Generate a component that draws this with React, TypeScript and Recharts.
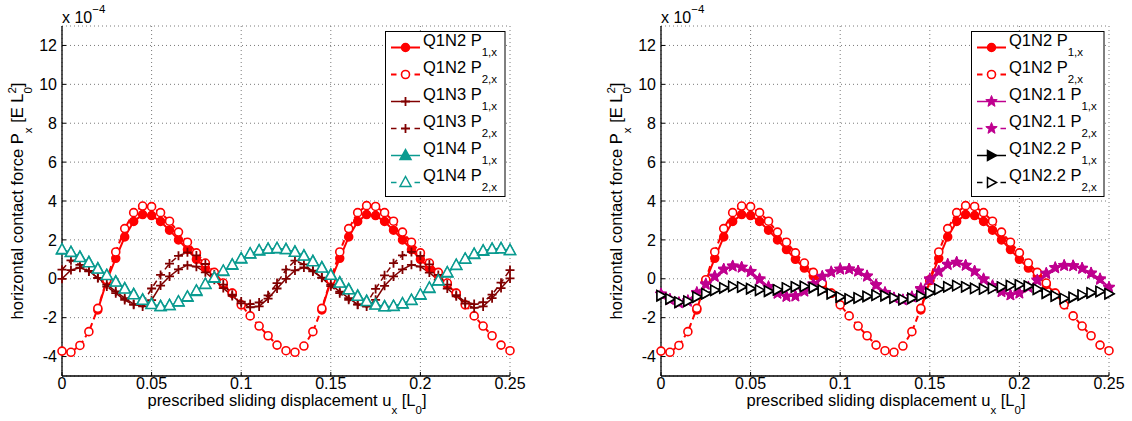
import React from 'react';
import { LineChart, Line, XAxis, YAxis, CartesianGrid } from 'recharts';

const FONT = '"Liberation Sans", Arial, Helvetica, sans-serif';

// prescribed sliding displacement u_x [L_0]
const displacement = [
  0, 0.005, 0.01, 0.015, 0.02, 0.025, 0.03, 0.035, 0.04, 0.045,
  0.05, 0.055, 0.06, 0.065, 0.07, 0.075, 0.08, 0.085, 0.09, 0.095,
  0.1, 0.105, 0.11, 0.115, 0.12, 0.125, 0.13, 0.135, 0.14, 0.145,
  0.15, 0.155, 0.16, 0.165, 0.17, 0.175, 0.18, 0.185, 0.19, 0.195,
  0.2, 0.205, 0.21, 0.215, 0.22, 0.225, 0.23, 0.235, 0.24, 0.245, 0.25,
];

// horizontal contact force, x 1e-4
const q1n2P1 = [
  null, null, null, null, -1.6, -0.1, 1.05, 2.15, 2.95, 3.3,
  3.25, 2.95, 2.5, 2.0, 1.5, 1.0, 0.55, 0.15, -0.3, -0.75,
  null, null, null, null, null, null, null, null, null, -1.6,
  -0.1, 1.05, 2.15, 2.95, 3.3, 3.25, 2.95, 2.5, 2.0, 1.5,
  1.0, 0.55, 0.15, -0.3, -0.75, null, null, null, null, null, null,
];
const q1n2P2 = [
  -3.72, -3.78, -3.43, -2.72, -1.52, -0.05, 1.38, 2.58, 3.4, 3.74,
  3.71, 3.4, 2.96, 2.4, 1.88, 1.33, 0.81, 0.33, -0.22, -0.74,
  -1.34, -1.91, -2.43, -2.93, -3.41, -3.7, -3.78, -3.46, -2.72, -1.52,
  -0.05, 1.38, 2.58, 3.4, 3.76, 3.72, 3.4, 2.96, 2.4, 1.88,
  1.33, 0.81, 0.33, -0.22, -0.74, -1.34, -1.91, -2.43, -2.93, -3.41, -3.7,
];
const q1n3P1 = [
  0, 0.45, 0.57, 0.4, 0.05, -0.3, -0.65, -1.0, -1.3, -1.42,
  -1.1, -0.35, 0.12, 0.48, 0.7, 0.62, 0.33, -0.05, -0.48, -0.88,
  -1.26, -1.47, -1.42, -1.02, -0.5, 0.0, 0.43, 0.58, 0.42, 0.06,
  -0.3, -0.66, -1.0, -1.32, -1.43, -1.08, -0.36, 0.12, 0.48, 0.72,
  0.62, 0.32, -0.06, -0.5, -0.9, -1.28, -1.5, -1.42, -1.0, -0.48, 0.02,
];
const q1n3P2 = [
  0.47, 0.95, 0.72, 0.38, 0.04, -0.4, -0.74, -1.09, -1.34, -1.27,
  -0.5, 0.2, 0.78, 1.18, 1.36, 1.2, 0.76, 0.22, -0.3, -0.82,
  -1.17, -1.3, -1.22, -0.85, -0.22, 0.47, 0.93, 0.74, 0.38, 0.05,
  -0.38, -0.74, -1.08, -1.33, -1.28, -0.52, 0.18, 0.8, 1.2, 1.38,
  1.18, 0.74, 0.2, -0.3, -0.84, -1.18, -1.3, -1.2, -0.82, -0.2, 0.45,
];
const q1n4P1 = [
  1.48, 1.35, 1.12, 0.85, 0.52, 0.18, -0.15, -0.5, -0.8, -1.08,
  -1.3, -1.42, -1.38, -1.2, -0.95, -0.65, -0.3, 0.03, 0.38, 0.7,
  1.02, 1.27, 1.43, 1.52, 1.55, 1.5, 1.38, 1.18, 0.9, 0.58,
  0.2, -0.2, -0.55, -0.88, -1.15, -1.33, -1.43, -1.42, -1.3, -1.12,
  -0.85, -0.5, -0.12, 0.3, 0.68, 1.0, 1.25, 1.42, 1.52, 1.55, 1.45,
];
const q1n4P2 = [
  1.5, 1.36, 1.1, 0.83, 0.5, 0.17, -0.17, -0.52, -0.82, -1.1,
  -1.32, -1.43, -1.37, -1.18, -0.93, -0.62, -0.28, 0.05, 0.4, 0.72,
  1.04, 1.29, 1.45, 1.53, 1.56, 1.5, 1.37, 1.17, 0.88, 0.56,
  0.18, -0.22, -0.57, -0.9, -1.17, -1.35, -1.44, -1.41, -1.28, -1.1,
  -0.82, -0.47, -0.1, 0.32, 0.7, 1.02, 1.27, 1.44, 1.53, 1.55, 1.46,
];
const q1n21P1 = [
  -0.78, -1.05, -1.25, -1.17, -0.75, -0.3, 0.1, 0.47, 0.64, 0.6,
  0.38, 0.0, -0.4, -0.74, -0.9, -0.9, -0.65, -0.3, 0.1, 0.33,
  0.48, 0.5, 0.4, 0.15, -0.3, -0.7, -0.98, -1.1, -0.95, -0.55,
  -0.05, 0.35, 0.72, 0.84, 0.7, 0.4, 0.0, -0.35, -0.65, -0.83,
  -0.75, -0.45, -0.1, 0.25, 0.55, 0.67, 0.67, 0.55, 0.3, 0.0, -0.43,
];
const q1n21P2 = [
  -0.8, -1.08, -1.22, -1.12, -0.7, -0.26, 0.14, 0.5, 0.66, 0.58,
  0.35, -0.04, -0.44, -0.76, -0.92, -0.88, -0.62, -0.26, 0.13, 0.36,
  0.5, 0.5, 0.38, 0.12, -0.34, -0.73, -1.0, -1.08, -0.92, -0.5,
  0.0, 0.4, 0.75, 0.85, 0.68, 0.37, -0.04, -0.38, -0.68, -0.84,
  -0.72, -0.42, -0.06, 0.29, 0.58, 0.69, 0.66, 0.52, 0.27, -0.04, -0.46,
];
const q1n22P1 = [
  -0.88, -1.05, -1.22, -1.17, -0.95, -0.78, -0.6, -0.48, -0.4, -0.43,
  -0.52, -0.6, -0.65, -0.58, -0.48, -0.42, -0.4, -0.47, -0.6, -0.78,
  -0.95, -1.05, -1.0, -0.92, -0.85, -0.88, -1.0, -1.08, -1.02, -0.9,
  -0.75, -0.55, -0.42, -0.36, -0.42, -0.5, -0.53, -0.5, -0.43, -0.36,
  -0.32, -0.38, -0.55, -0.75, -0.9, -1.03, -0.97, -0.85, -0.74, -0.66, -0.78,
];
const q1n22P2 = [
  -0.86, -1.03, -1.2, -1.15, -0.93, -0.76, -0.58, -0.46, -0.39, -0.42,
  -0.5, -0.58, -0.63, -0.56, -0.47, -0.41, -0.39, -0.45, -0.58, -0.76,
  -0.93, -1.03, -0.98, -0.9, -0.84, -0.86, -0.98, -1.06, -1.0, -0.88,
  -0.73, -0.53, -0.41, -0.35, -0.41, -0.49, -0.52, -0.49, -0.42, -0.35,
  -0.31, -0.37, -0.53, -0.73, -0.88, -1.01, -0.95, -0.83, -0.72, -0.65, -0.76,
];

const xTicks = [0, 0.05, 0.1, 0.15, 0.2, 0.25];
const yTicks = [-4, -2, 0, 2, 4, 6, 8, 10, 12];

const rows = displacement.map((u, i) => ({
  u,
  q1n2P1: q1n2P1[i],
  q1n2P2: q1n2P2[i],
  q1n3P1: q1n3P1[i],
  q1n3P2: q1n3P2[i],
  q1n4P1: q1n4P1[i],
  q1n4P2: q1n4P2[i],
  q1n21P1: q1n21P1[i],
  q1n21P2: q1n21P2[i],
  q1n22P1: q1n22P1[i],
  q1n22P2: q1n22P2[i],
}));

const RED = '#ff0000';
const MAROON = '#800000';
const TEAL = '#0a9b90';
const MAGENTA = '#bf008f';

type Kind = 'circle' | 'circleOpen' | 'plus' | 'triUp' | 'triUpOpen' | 'star' | 'triRight' | 'triRightOpen';

interface SeriesDef {
  key: string;
  label: string;
  sub: string;
  color: string;
  kind: Kind;
  dashed: boolean;
  width: number;
}

const leftSeries: SeriesDef[] = [
  { key: 'q1n2P1', label: 'Q1N2 P', sub: '1,x', color: RED, kind: 'circle', dashed: false, width: 2 },
  { key: 'q1n2P2', label: 'Q1N2 P', sub: '2,x', color: RED, kind: 'circleOpen', dashed: true, width: 2 },
  { key: 'q1n3P1', label: 'Q1N3 P', sub: '1,x', color: MAROON, kind: 'plus', dashed: false, width: 1.5 },
  { key: 'q1n3P2', label: 'Q1N3 P', sub: '2,x', color: MAROON, kind: 'plus', dashed: true, width: 1.5 },
  { key: 'q1n4P1', label: 'Q1N4 P', sub: '1,x', color: TEAL, kind: 'triUp', dashed: false, width: 1.5 },
  { key: 'q1n4P2', label: 'Q1N4 P', sub: '2,x', color: TEAL, kind: 'triUpOpen', dashed: true, width: 1.5 },
];

const rightSeries: SeriesDef[] = [
  { key: 'q1n2P1', label: 'Q1N2 P', sub: '1,x', color: RED, kind: 'circle', dashed: false, width: 2 },
  { key: 'q1n2P2', label: 'Q1N2 P', sub: '2,x', color: RED, kind: 'circleOpen', dashed: true, width: 2 },
  { key: 'q1n21P1', label: 'Q1N2.1 P', sub: '1,x', color: MAGENTA, kind: 'star', dashed: false, width: 1.5 },
  { key: 'q1n21P2', label: 'Q1N2.1 P', sub: '2,x', color: MAGENTA, kind: 'star', dashed: true, width: 1.5 },
  { key: 'q1n22P1', label: 'Q1N2.2 P', sub: '1,x', color: '#000', kind: 'triRight', dashed: false, width: 1.5 },
  { key: 'q1n22P2', label: 'Q1N2.2 P', sub: '2,x', color: '#000', kind: 'triRightOpen', dashed: true, width: 1.5 },
];

function starPoints(x: number, y: number, ro: number, ri: number) {
  const pts: string[] = [];
  for (let k = 0; k < 10; k++) {
    const r = k % 2 === 0 ? ro : ri;
    const a = -Math.PI / 2 + (k * Math.PI) / 5;
    pts.push(`${x + r * Math.cos(a)},${y + r * Math.sin(a)}`);
  }
  return pts.join(' ');
}

const Marker = ({ kind, x, y, color }: { kind: Kind; x: number; y: number; color: string }) => {
  switch (kind) {
    case 'circle':
      return <circle cx={x} cy={y} r={4} fill={color} stroke={color} strokeWidth={1.5} />;
    case 'circleOpen':
      return <circle cx={x} cy={y} r={4} fill="#fff" stroke={color} strokeWidth={1.6} />;
    case 'plus':
      return (
        <path d={`M${x - 4.5},${y}H${x + 4.5}M${x},${y - 4.5}V${y + 4.5}`} stroke={color} strokeWidth={1.8} fill="none" />
      );
    case 'triUp':
    case 'triUpOpen':
      return (
        <polygon
          points={`${x},${y - 6} ${x - 5.5},${y + 4} ${x + 5.5},${y + 4}`}
          fill={kind === 'triUp' ? color : '#fff'}
          stroke={color}
          strokeWidth={1.5}
        />
      );
    case 'star':
      return <polygon points={starPoints(x, y, 6, 2.6)} fill={color} stroke={color} strokeWidth={1} />;
    case 'triRight':
    case 'triRightOpen':
      return (
        <polygon
          points={`${x + 5},${y} ${x - 4},${y - 5} ${x - 4},${y + 5}`}
          fill={kind === 'triRight' ? color : '#fff'}
          stroke={color}
          strokeWidth={1.5}
        />
      );
    default:
      return null;
  }
};

const renderDot = (s: SeriesDef) => (p: any) => {
  const key = `${s.key}-${p.index}`;
  if (p.value == null || p.cx == null || p.cy == null) return <g key={key} />;
  return (
    <g key={key}>
      <Marker kind={s.kind} x={p.cx} y={p.cy} color={s.color} />
    </g>
  );
};

const LegendBox = ({ series, x, w }: { series: SeriesDef[]; x: number; w: number }) => {
  const top = 31.5;
  const lx0 = x + 5.5;
  const lx1 = lx0 + 29;
  const tx = lx1 + 3;
  return (
    <g>
      <rect x={x} y={top} width={w} height={165} fill="#fff" stroke="#000" strokeWidth={1} />
      {series.map((s, i) => {
        const ly = 47.5 + i * 27;
        const mx = (lx0 + lx1) / 2;
        return (
          <g key={s.key}>
            {s.dashed ? (
              <>
                <line x1={lx0} x2={lx0 + 5.5} y1={ly} y2={ly} stroke={s.color} strokeWidth={s.width} />
                <line x1={lx1 - 5.5} x2={lx1} y1={ly} y2={ly} stroke={s.color} strokeWidth={s.width} />
              </>
            ) : (
              <line x1={lx0} x2={lx1} y1={ly} y2={ly} stroke={s.color} strokeWidth={s.width} />
            )}
            <Marker kind={s.kind} x={mx} y={ly} color={s.color} />
            <text x={tx} y={ly - 2} fontSize={16.5} fontFamily={FONT} fill="#000">
              {s.label}
              <tspan dy={10} fontSize={11.5}>{s.sub}</tspan>
            </text>
          </g>
        );
      })}
    </g>
  );
};

const Panel = ({ left, series, legendX, legendW }: { left: number; series: SeriesDef[]; legendX: number; legendW: number }) => {
  const W = 566;
  const H = 421;
  const tickStyle = { fill: '#000', fontSize: 16, fontFamily: FONT };
  return (
    <div style={{ position: 'absolute', left, top: 0, width: W, height: H }}>
      <LineChart width={W} height={H} data={rows} margin={{ top: 26, right: 56, bottom: 15, left: 0 }}>
        <CartesianGrid stroke="#7a7a7a" strokeDasharray="1 3" strokeWidth={1} />
        <XAxis
          dataKey="u"
          type="number"
          domain={[0, 0.25]}
          ticks={xTicks}
          interval={0}
          height={30}
          tickSize={-4}
          tickMargin={6}
          tick={tickStyle}
          axisLine={{ stroke: '#000', strokeWidth: 1.3 }}
          tickLine={{ stroke: '#000' }}
        />
        <XAxis
          xAxisId="top"
          orientation="top"
          dataKey="u"
          type="number"
          domain={[0, 0.25]}
          ticks={xTicks}
          interval={0}
          height={0}
          tickSize={-4}
          tick={false}
          axisLine={{ stroke: '#000', strokeWidth: 1.3 }}
          tickLine={{ stroke: '#000' }}
        />
        <YAxis
          type="number"
          domain={[-5, 13]}
          ticks={yTicks}
          interval={0}
          width={62}
          tickSize={-4}
          tickMargin={9}
          tick={tickStyle}
          axisLine={{ stroke: '#000', strokeWidth: 1.3 }}
          tickLine={{ stroke: '#000' }}
        />
        <YAxis
          yAxisId="right"
          orientation="right"
          type="number"
          domain={[-5, 13]}
          ticks={yTicks}
          interval={0}
          width={0}
          tickSize={-4}
          tick={false}
          axisLine={{ stroke: '#000', strokeWidth: 1.3 }}
          tickLine={{ stroke: '#000' }}
        />
        {series.map((s) => (
          <Line
            key={s.key}
            dataKey={s.key}
            type="linear"
            stroke={s.color}
            strokeWidth={s.width}
            strokeDasharray={s.dashed ? '6 4' : undefined}
            dot={renderDot(s)}
            activeDot={false}
            connectNulls={false}
            isAnimationActive={false}
          />
        ))}
      </LineChart>
      <svg
        width={W}
        height={H}
        style={{ position: 'absolute', left: 0, top: 0, pointerEvents: 'none' }}
      >
        <text x={62} y={22.5} fontSize={16} fontFamily={FONT} fill="#000">
          x 10<tspan dy={-10} fontSize={11.5}>−4</tspan>
        </text>
        <text
          transform="translate(22.5,201) rotate(-90)"
          textAnchor="middle"
          fontSize={16.5}
          fontFamily={FONT}
          fill="#000"
        >
          horizontal contact force P<tspan dy={9} fontSize={11.5}>x</tspan>
          <tspan dy={-9}> [E L</tspan>
          <tspan dy={9} fontSize={11.5}>0</tspan>
          <tspan dx={-6.5} dy={-16} fontSize={11.5}>2</tspan>
          <tspan dy={7}>]</tspan>
        </text>
        <text x={287} y={406} textAnchor="middle" fontSize={16.5} fontFamily={FONT} fill="#000">
          prescribed sliding displacement u<tspan dy={8} fontSize={11.5}>x</tspan>
          <tspan dy={-8}> [L</tspan>
          <tspan dy={8} fontSize={11.5}>0</tspan>
          <tspan dy={-8}>]</tspan>
        </text>
        <LegendBox series={series} x={legendX} w={legendW} />
      </svg>
    </div>
  );
}

export default function App() {
  return (
    <div
      style={{
        position: 'absolute',
        left: 0,
        top: 0,
        width: 1132,
        height: 421,
        background: '#fff',
        overflow: 'hidden',
      }}
    >
      <Panel left={0} series={leftSeries} legendX={385.5} legendW={119.5} />
      <Panel left={599} series={rightSeries} legendX={372.5} legendW={132.5} />
    </div>
  );
}
